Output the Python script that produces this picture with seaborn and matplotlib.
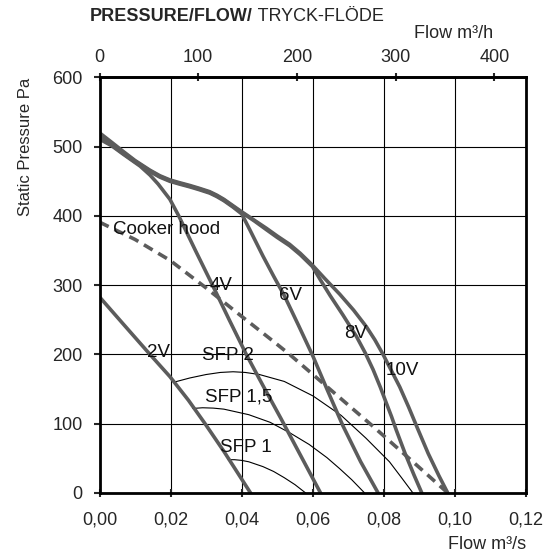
import numpy as np
import pandas as pd
import seaborn as sns
import matplotlib.pyplot as plt

# fan curves (flow m3/s, static pressure Pa)
v2_q = [0, 0.007, 0.0142, 0.0198, 0.025, 0.0297, 0.035, 0.0425]
v2_p = [283, 242, 200, 168, 134, 100, 60, 0]

v4_q = [0, 0.0035, 0.0067, 0.0114, 0.0142, 0.0165, 0.0198, 0.0223, 0.027, 0.0318, 0.0365,
        0.0413, 0.046, 0.051, 0.0565, 0.0622]
v4_p = [511, 501, 489, 472, 459, 446, 424, 400, 350, 300, 250, 200, 155, 108, 55, 0]

v6_q = [0, 0.0035, 0.0067, 0.01, 0.0142, 0.017, 0.0198, 0.0225, 0.0254, 0.028, 0.031, 0.033,
        0.035, 0.0375, 0.040, 0.0423, 0.046, 0.049, 0.052, 0.056, 0.0601, 0.064, 0.0685,
        0.0735, 0.0784]
v6_p = [514, 502, 490, 478, 464, 456, 450, 446, 442, 438, 433, 428, 422, 413, 403, 380, 342,
        313, 285, 242, 197, 150, 97, 45, 0]

v8_q = [0, 0.0035, 0.0067, 0.01, 0.0142, 0.017, 0.0198, 0.0225, 0.0254, 0.028, 0.031, 0.033,
        0.035, 0.0375, 0.040, 0.0435, 0.047, 0.050, 0.0535, 0.0565, 0.0599, 0.062, 0.0649,
        0.0685, 0.0723, 0.0748, 0.077, 0.079, 0.0807, 0.0822, 0.0835, 0.086, 0.0885, 0.0907]
v8_p = [517, 504, 491, 479, 465, 457, 451, 447, 443, 439, 434, 429, 423, 414, 405, 393, 380,
        369, 357, 344, 327, 309, 285, 257, 226, 202, 178, 153, 130, 110, 91, 57, 26, 0]

v10_q = [0, 0.0035, 0.0067, 0.01, 0.0142, 0.017, 0.0198, 0.0225, 0.0254, 0.028, 0.031, 0.033,
         0.035, 0.0375, 0.040, 0.0435, 0.047, 0.050, 0.0535, 0.0565, 0.0599, 0.0635, 0.0676,
         0.0715, 0.0751, 0.0775, 0.0798, 0.082, 0.0845, 0.087, 0.0896, 0.0925, 0.0955, 0.098]
v10_p = [520, 506, 493, 480, 466, 458, 452, 448, 444, 440, 435, 430, 424, 415, 406, 394, 382,
         371, 359, 346, 329, 309, 287, 264, 240, 221, 200, 178, 153, 124, 92, 57, 25, 0]

hood_q = [0, 0.01, 0.0198, 0.03, 0.0395, 0.0489, 0.0535, 0.0648, 0.077, 0.0882, 0.098]
hood_p = [391, 366, 336, 296, 257, 219, 200, 150, 96, 45, 0]

# SFP lines
sfp2_q = [0.021, 0.0254, 0.030, 0.034, 0.0376, 0.041, 0.045, 0.052, 0.0601, 0.068, 0.075,
          0.0816, 0.085, 0.0882]
sfp2_p = [160, 166, 171, 174, 175, 174, 171, 161, 140, 112, 79, 45, 22, 0]
sfp15_q = [0.0262, 0.029, 0.032, 0.035, 0.042, 0.048, 0.0535, 0.059, 0.064, 0.0676, 0.071, 0.0746]
sfp15_p = [122, 123, 122.5, 121, 113, 102, 87, 70, 51, 35, 19, 0]
sfp1_q = [0.0362, 0.038, 0.040, 0.042, 0.046, 0.049, 0.052, 0.055, 0.058]
sfp1_p = [48, 48, 47, 45, 38, 31, 22, 12, 0]

xticks = [0, 0.02, 0.04, 0.06, 0.08, 0.10, 0.12]
xtick_labels = ["0,00", "0,02", "0,04", "0,06", "0,08", "0,10", "0,12"]
yticks = [0, 100, 200, 300, 400, 500, 600]
top_ticks = [0, 100, 200, 300, 400]

fan = pd.concat([
    pd.DataFrame({"flow": q, "pressure": p, "curve": name})
    for name, q, p in [("2V", v2_q, v2_p), ("4V", v4_q, v4_p), ("6V", v6_q, v6_p),
                       ("8V", v8_q, v8_p), ("10V", v10_q, v10_p)]
])
sfp = pd.concat([
    pd.DataFrame({"flow": q, "pressure": p, "curve": name})
    for name, q, p in [("SFP 2", sfp2_q, sfp2_p), ("SFP 1,5", sfp15_q, sfp15_p),
                       ("SFP 1", sfp1_q, sfp1_p)]
])

sns.set_style("white")
plt.rcParams["font.family"] = ["Liberation Sans", "DejaVu Sans"]

grey = "#5c5c5c"
fig = plt.figure(figsize=(5.53, 5.57), dpi=100)
ax = fig.add_axes([0.18, 0.115, 0.771, 0.746])

sns.lineplot(data=sfp, x="flow", y="pressure", units="curve", estimator=None, sort=False,
             color="black", lw=0.8, ax=ax, legend=False)
sns.lineplot(x=hood_q, y=hood_p, sort=False, color=grey, lw=2.6,
             linestyle=(0, (2.8, 1.8)), ax=ax)
sns.lineplot(data=fan, x="flow", y="pressure", units="curve", estimator=None, sort=False,
             color=grey, lw=2.6, ax=ax, legend=False)

# curve labels
labels = [("Cooker hood", 0.0038, 380, "left"), ("4V", 0.0343, 300, "center"),
          ("6V", 0.0537, 285, "center"), ("8V", 0.0720, 230, "center"),
          ("10V", 0.0852, 177, "center"), ("2V", 0.0167, 203, "center"),
          ("SFP 2", 0.0361, 198, "center"), ("SFP 1,5", 0.0391, 139, "center"),
          ("SFP 1", 0.0412, 66, "center")]
for txt, x, y, ha in labels:
    ax.text(x, y, txt, fontsize=13.5, ha=ha, va="center", color="#111111")

ax.set_xlim(0, 0.12)
ax.set_ylim(0, 600)
ax.set_xticks(xticks)
ax.set_xticklabels(xtick_labels)
ax.set_yticks(yticks)
ax.set_axisbelow(True)
ax.grid(True, color="black", lw=0.8)
for s in ax.spines.values():
    s.set_visible(True)
    s.set_color("black")
    s.set_linewidth(2)
ax.tick_params(axis="x", bottom=True, direction="inout", length=6, width=1.5, pad=10, labelsize=13)
ax.tick_params(axis="y", left=True, direction="out", length=4, width=1.5, pad=8, labelsize=13)

secax = ax.secondary_xaxis("top", functions=(lambda q: q * 3600, lambda h: h / 3600))
secax.set_xticks(top_ticks)
secax.tick_params(top=True, direction="inout", length=6, width=1.5, pad=5, labelsize=13)
secax.spines["top"].set_linewidth(2)

ax.set_xlabel("Flow m³/s", loc="right", fontsize=13, labelpad=6)
ax.set_ylabel("Static Pressure Pa", loc="top", fontsize=12)
ax.yaxis.set_label_coords(-0.155, 1.0)

fig.text(493 / 553, 1 - 33 / 557, "Flow m³/h", ha="right", va="center", fontsize=13)
t1 = fig.text(90 / 553, 1 - 25 / 557, "PRESSURE/FLOW/", fontsize=13, weight="bold", va="bottom")
ax.annotate(" TRYCK-FLÖDE", xy=(1, 0), xycoords=t1, va="bottom", ha="left", fontsize=13)

fig.savefig("out.png", dpi=100)
